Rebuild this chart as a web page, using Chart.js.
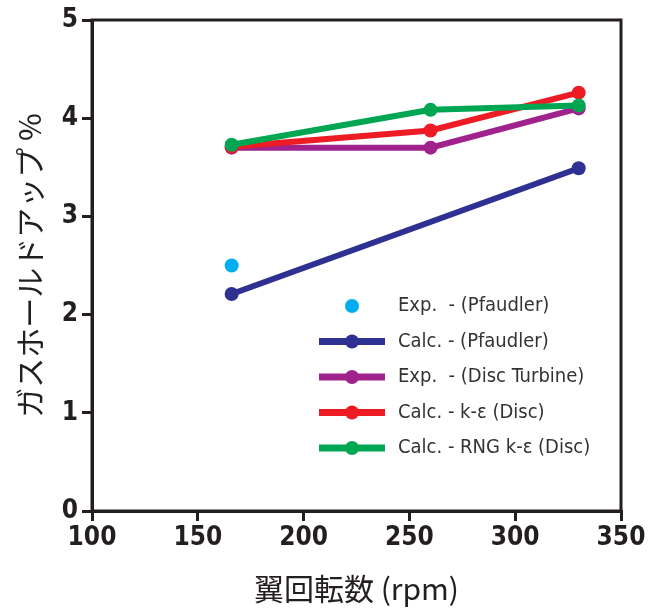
<!DOCTYPE html>
<html>
<head>
<meta charset="utf-8">
<script src="https://cdn.jsdelivr.net/npm/chart.js@4/dist/chart.umd.min.js"></script>
<style>
    html, body { margin: 0; padding: 0; background: #fff; }
    #wrap { width: 659px; height: 609px; }
</style>
</head>
<body>
<div id="wrap"><canvas id="chart"></canvas></div>
<script>
    'use strict';

    // Impeller speed (rpm) and gas hold-up (%)
    const rpmPfaudlerExp = [166];
    const holdupPfaudlerExp = [2.5];
    const rpmPfaudlerCalc = [166, 330];
    const holdupPfaudlerCalc = [2.21, 3.49];
    const rpmDisc = [166, 260, 330];
    const holdupDiscExp = [3.70, 3.70, 4.10];
    const holdupDiscKe = [3.71, 3.875, 4.26];
    const holdupDiscRng = [3.73, 4.085, 4.13];

    const labels = [
        'Exp.  - (Pfaudler)',
        'Calc. - (Pfaudler)',
        'Exp.  - (Disc Turbine)',
        'Calc. - k-\u03b5 (Disc)',
        'Calc. - RNG k-\u03b5 (Disc)',
    ];
    const xTicks = [100, 150, 200, 250, 300, 350];
    const yTicks = [0, 1, 2, 3, 4, 5];

    const INK = '#231f20';
    const TICK_FONT = '"Liberation Sans Narrow", "DejaVu Sans Condensed", sans-serif';
    const CJK_FONT = '"Noto Sans CJK JP", sans-serif';

    function pts(xs, ys) {
        return xs.map(function (x, i) { return {x: x, y: ys[i]}; });
    }

    function series(label, data, color, order, showLine) {
        return {
            label: label,
            data: data,
            borderColor: color,
            backgroundColor: color,
            pointBackgroundColor: color,
            pointBorderColor: color,
            pointRadius: 7,
            pointBorderWidth: 0,
            borderWidth: 6,
            showLine: showLine,
            order: order,
        };
    }

    // box round the plot and the legend inside it
    const framePlugin = {
        id: 'frame',
        afterDatasetsDraw: function (chart) {
            const ctx = chart.ctx;
            const a = chart.chartArea;
            ctx.save();
            ctx.strokeStyle = INK;
            ctx.lineWidth = 3;
            ctx.strokeRect(a.left, a.top, a.right - a.left, a.bottom - a.top);

            const lineX0 = 319, lineX1 = 385, textX = 398;
            let y = 306;
            ctx.font = '20px ' + TICK_FONT;
            ctx.textBaseline = 'middle';
            chart.data.datasets.forEach(function (ds) {
                if (ds.showLine) {
                    ctx.strokeStyle = ds.borderColor;
                    ctx.lineWidth = 7;
                    ctx.beginPath();
                    ctx.moveTo(lineX0, y);
                    ctx.lineTo(lineX1, y);
                    ctx.stroke();
                }
                ctx.fillStyle = ds.borderColor;
                ctx.beginPath();
                ctx.arc((lineX0 + lineX1) / 2, y, 7, 0, Math.PI * 2);
                ctx.fill();
                ctx.fillStyle = '#333';
                ctx.fillText(ds.label, textX, y);
                y += 35.5;
            });
            ctx.restore();
        },
    };

    new Chart(document.getElementById('chart'), {
        type: 'scatter',
        data: {
            datasets: [
                series(labels[0], pts(rpmPfaudlerExp, holdupPfaudlerExp), '#00aeef', 0, false),
                series(labels[1], pts(rpmPfaudlerCalc, holdupPfaudlerCalc), '#2e3192', 4, true),
                series(labels[2], pts(rpmDisc, holdupDiscExp), '#a0228d', 3, true),
                series(labels[3], pts(rpmDisc, holdupDiscKe), '#ed1c24', 2, true),
                series(labels[4], pts(rpmDisc, holdupDiscRng), '#00a651', 1, true),
            ],
        },
        options: {
            responsive: true,
            maintainAspectRatio: false,
            animation: false,
            layout: {
                padding: {left: 0, right: 38, top: 20, bottom: 0},
            },
            plugins: {
                legend: {display: false},
                tooltip: {enabled: false},
            },
            scales: {
                x: {
                    type: 'linear',
                    min: 100,
                    max: 350,
                    afterBuildTicks: function (axis) {
                        axis.ticks = xTicks.map(function (v) { return {value: v}; });
                    },
                    afterFit: function (axis) { axis.height = 98; },
                    border: {display: true, color: INK, width: 3},
                    grid: {
                        display: true,
                        drawOnChartArea: false,
                        drawTicks: true,
                        tickLength: 10,
                        color: INK,
                        lineWidth: 3,
                    },
                    ticks: {
                        color: INK,
                        padding: 2,
                        maxRotation: 0,
                        font: {family: TICK_FONT, size: 26, weight: 'bold'},
                    },
                    title: {
                        display: true,
                        text: '翼回転数 (rpm)',
                        color: INK,
                        padding: {top: 4, bottom: 2},
                        font: {family: CJK_FONT, size: 30},
                    },
                },
                y: {
                    min: 0,
                    max: 5,
                    afterBuildTicks: function (axis) {
                        axis.ticks = yTicks.map(function (v) { return {value: v}; });
                    },
                    afterFit: function (axis) { axis.width = 92; },
                    border: {display: true, color: INK, width: 3},
                    grid: {
                        display: true,
                        drawOnChartArea: false,
                        drawTicks: true,
                        tickLength: 10,
                        color: INK,
                        lineWidth: 3,
                    },
                    ticks: {
                        color: INK,
                        padding: 4,
                        font: {family: TICK_FONT, size: 26, weight: 'bold'},
                    },
                    title: {
                        display: true,
                        text: 'ガスホールドアップ %',
                        color: INK,
                        padding: {top: 12, bottom: 0},
                        font: {family: CJK_FONT, size: 30},
                    },
                },
            },
        },
        plugins: [framePlugin],
    });
</script>
</body>
</html>
